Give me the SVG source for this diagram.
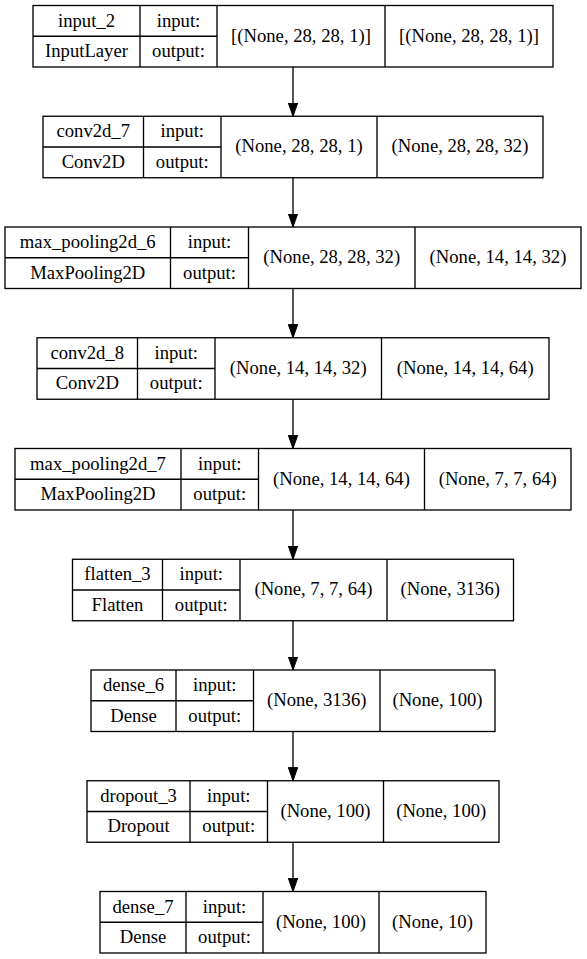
<svg xmlns="http://www.w3.org/2000/svg" width="587" height="959" viewBox="0 0 587 959">
<defs>
<style>
.bg{fill:#ffffff}
.box{fill:#ffffff;stroke:#000;stroke-width:1.33}
.ln{stroke:#000;stroke-width:1.33;fill:none}
.t{font-family:'Liberation Serif','Tinos','Times New Roman','Times','Nimbus Roman','Nimbus Roman No9 L','FreeSerif','DejaVu Serif','Noto Serif',serif;font-size:18.67px;fill:#000;text-anchor:middle}
.edge{stroke:#000;stroke-width:1.33;fill:none;marker-end:url(#ah)}
</style>
<marker id="ah" markerUnits="userSpaceOnUse" markerWidth="13.3" markerHeight="9.4" viewBox="0 0 13.3 9.4" refX="13.3" refY="4.7" orient="auto">
<path d="M0,0 L13.3,4.7 L0,9.4 z" fill="#000" stroke="#000" stroke-width="1"/>
</marker>
</defs>
<rect class="bg" x="0" y="0" width="587" height="959"/>
<g id="connectors">
<line class="edge" x1="293" y1="67" x2="293" y2="116.25"/>
<line class="edge" x1="293" y1="177.75" x2="293" y2="227"/>
<line class="edge" x1="293" y1="288.5" x2="293" y2="337.75"/>
<line class="edge" x1="293" y1="399.25" x2="293" y2="448.5"/>
<line class="edge" x1="293" y1="510" x2="293" y2="559.25"/>
<line class="edge" x1="293" y1="620.75" x2="293" y2="670"/>
<line class="edge" x1="293" y1="731.5" x2="293" y2="780.75"/>
<line class="edge" x1="293" y1="842.25" x2="293" y2="891.5"/>
</g>
<g id="input_2">
<rect class="box" x="33" y="5.5" width="520" height="61.5"/>
<path class="ln" d="M140,5.5V67 M217,5.5V67 M385,5.5V67 M33,36.25H217"/>
<text class="t" x="86.5" y="26.7">input_2</text>
<text class="t" x="86.5" y="57">InputLayer</text>
<text class="t" x="178.5" y="26.7">input:</text>
<text class="t" x="178.5" y="57">output:</text>
<text class="t" x="301" y="41.7">[(None, 28, 28, 1)]</text>
<text class="t" x="469" y="41.7">[(None, 28, 28, 1)]</text>
</g>
<g id="conv2d_7">
<rect class="box" x="43" y="116.25" width="500" height="61.5"/>
<path class="ln" d="M143.5,116.25V177.75 M221,116.25V177.75 M377,116.25V177.75 M43,147H221"/>
<text class="t" x="93.25" y="137.45">conv2d_7</text>
<text class="t" x="93.25" y="167.75">Conv2D</text>
<text class="t" x="182.25" y="137.45">input:</text>
<text class="t" x="182.25" y="167.75">output:</text>
<text class="t" x="299" y="152.45">(None, 28, 28, 1)</text>
<text class="t" x="460" y="152.45">(None, 28, 28, 32)</text>
</g>
<g id="max_pooling2d_6">
<rect class="box" x="5" y="227" width="576" height="61.5"/>
<path class="ln" d="M170.5,227V288.5 M248.5,227V288.5 M415,227V288.5 M5,257.75H248.5"/>
<text class="t" x="87.75" y="248.2">max_pooling2d_6</text>
<text class="t" x="87.75" y="278.5">MaxPooling2D</text>
<text class="t" x="209.5" y="248.2">input:</text>
<text class="t" x="209.5" y="278.5">output:</text>
<text class="t" x="331.75" y="263.2">(None, 28, 28, 32)</text>
<text class="t" x="498" y="263.2">(None, 14, 14, 32)</text>
</g>
<g id="conv2d_8">
<rect class="box" x="37" y="337.75" width="512" height="61.5"/>
<path class="ln" d="M137.5,337.75V399.25 M215,337.75V399.25 M381.5,337.75V399.25 M37,368.5H215"/>
<text class="t" x="87.25" y="358.95">conv2d_8</text>
<text class="t" x="87.25" y="389.25">Conv2D</text>
<text class="t" x="176.25" y="358.95">input:</text>
<text class="t" x="176.25" y="389.25">output:</text>
<text class="t" x="298.25" y="373.95">(None, 14, 14, 32)</text>
<text class="t" x="465.25" y="373.95">(None, 14, 14, 64)</text>
</g>
<g id="max_pooling2d_7">
<rect class="box" x="15" y="448.5" width="556" height="61.5"/>
<path class="ln" d="M181,448.5V510 M258.5,448.5V510 M424.5,448.5V510 M15,479.25H258.5"/>
<text class="t" x="98" y="469.7">max_pooling2d_7</text>
<text class="t" x="98" y="500">MaxPooling2D</text>
<text class="t" x="219.75" y="469.7">input:</text>
<text class="t" x="219.75" y="500">output:</text>
<text class="t" x="341.5" y="484.7">(None, 14, 14, 64)</text>
<text class="t" x="497.75" y="484.7">(None, 7, 7, 64)</text>
</g>
<g id="flatten_3">
<rect class="box" x="72.5" y="559.25" width="441" height="61.5"/>
<path class="ln" d="M162.5,559.25V620.75 M240,559.25V620.75 M387,559.25V620.75 M72.5,590H240"/>
<text class="t" x="117.5" y="580.45">flatten_3</text>
<text class="t" x="117.5" y="610.75">Flatten</text>
<text class="t" x="201.25" y="580.45">input:</text>
<text class="t" x="201.25" y="610.75">output:</text>
<text class="t" x="313.5" y="595.45">(None, 7, 7, 64)</text>
<text class="t" x="450.25" y="595.45">(None, 3136)</text>
</g>
<g id="dense_6">
<rect class="box" x="91" y="670" width="404" height="61.5"/>
<path class="ln" d="M176,670V731.5 M253.5,670V731.5 M380,670V731.5 M91,700.75H253.5"/>
<text class="t" x="133.5" y="691.2">dense_6</text>
<text class="t" x="133.5" y="721.5">Dense</text>
<text class="t" x="214.75" y="691.2">input:</text>
<text class="t" x="214.75" y="721.5">output:</text>
<text class="t" x="316.75" y="706.2">(None, 3136)</text>
<text class="t" x="437.5" y="706.2">(None, 100)</text>
</g>
<g id="dropout_3">
<rect class="box" x="87" y="780.75" width="412" height="61.5"/>
<path class="ln" d="M190,780.75V842.25 M267.5,780.75V842.25 M383.5,780.75V842.25 M87,811.5H267.5"/>
<text class="t" x="138.5" y="801.95">dropout_3</text>
<text class="t" x="138.5" y="832.25">Dropout</text>
<text class="t" x="228.75" y="801.95">input:</text>
<text class="t" x="228.75" y="832.25">output:</text>
<text class="t" x="325.5" y="816.95">(None, 100)</text>
<text class="t" x="441.25" y="816.95">(None, 100)</text>
</g>
<g id="dense_7">
<rect class="box" x="100" y="891.5" width="386" height="61.5"/>
<path class="ln" d="M186,891.5V953 M263,891.5V953 M379,891.5V953 M100,922.25H263"/>
<text class="t" x="143" y="912.7">dense_7</text>
<text class="t" x="143" y="943">Dense</text>
<text class="t" x="224.5" y="912.7">input:</text>
<text class="t" x="224.5" y="943">output:</text>
<text class="t" x="321" y="927.7">(None, 100)</text>
<text class="t" x="432.5" y="927.7">(None, 10)</text>
</g>
</svg>
